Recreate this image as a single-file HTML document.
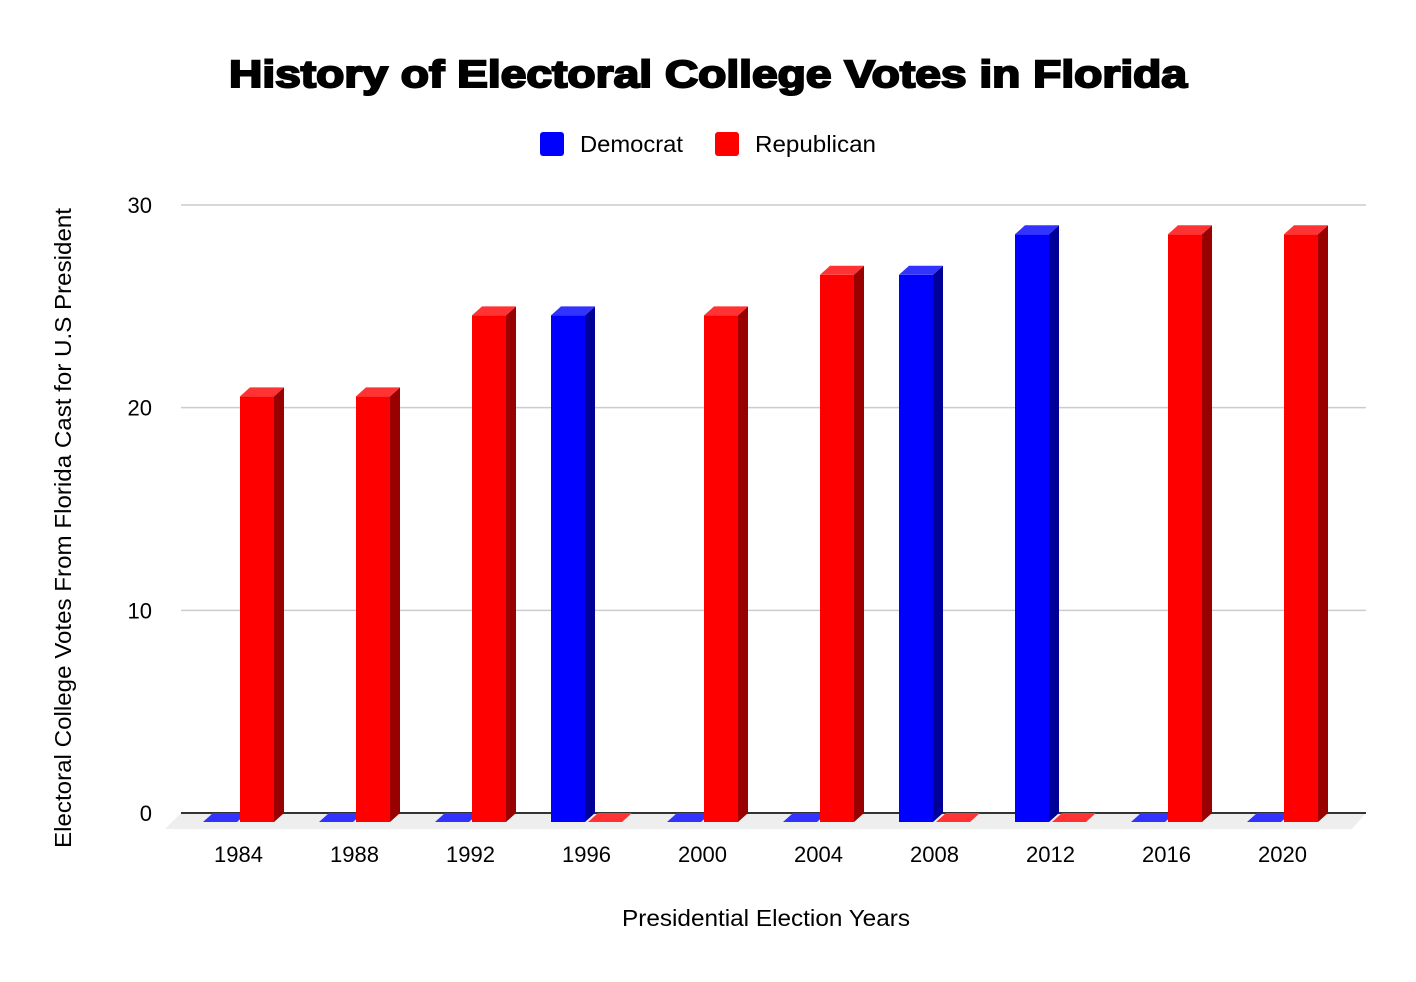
<!DOCTYPE html>
<html><head><meta charset="utf-8"><style>
body{margin:0;background:#fff;}
svg{display:block;font-family:"Liberation Sans",Arial,sans-serif;}
</style></head><body>
<svg width="1416" height="982">
<text x="229" y="87" font-size="38" font-weight="bold" stroke="#000" stroke-width="2" textLength="958" lengthAdjust="spacingAndGlyphs">History of Electoral College Votes in Florida</text>
<g>
<rect x="540" y="132" width="24" height="24" rx="3" fill="#0000ff"/>
<text x="580" y="152" font-size="23" textLength="103" lengthAdjust="spacingAndGlyphs">Democrat</text>
<rect x="715" y="132" width="24" height="24" rx="3" fill="#ff0000"/>
<text x="755" y="152" font-size="23" textLength="121" lengthAdjust="spacingAndGlyphs">Republican</text>
</g>
<g id="grid"></g>
<polygon points="181,813 1366,813 1352,829 165,829" fill="#eeeeee"/>
<line x1="181" y1="813" x2="1366" y2="813" stroke="#333" stroke-width="2"/>
<g id="bars"></g>
<g id="xlabels"></g>
<text x="622" y="926" font-size="23" textLength="288" lengthAdjust="spacingAndGlyphs">Presidential Election Years</text>
<text transform="translate(71,848) rotate(-90)" font-size="23" textLength="640" lengthAdjust="spacingAndGlyphs">Electoral College Votes From Florida Cast for U.S President</text>
</svg>
<script>
const years=["1984","1988","1992","1996","2000","2004","2008","2012","2016","2020"];
const democrat=[0,0,0,25,0,0,27,29,0,0];
const republican=[21,21,25,0,25,27,0,0,29,29];
const yTicks=[0,10,20,30];
const NS="http://www.w3.org/2000/svg";
const pxPerUnit=608/30;
function yBack(v){return 813-v*pxPerUnit;}
function xCenter(i){return 238.5+116*i;}
function mk(tag,attrs,parent){const e=document.createElementNS(NS,tag);for(const k in attrs)e.setAttribute(k,attrs[k]);parent.appendChild(e);return e;}
const grid=document.getElementById('grid');
yTicks.forEach(t=>{
  if(t>0){const l=mk('line',{x1:181,x2:1366,y1:yBack(t),y2:yBack(t),stroke:'#cccccc','stroke-width':1.5},grid);
  
  }
  const tx=mk('text',{x:152,y:yBack(t)+8,'text-anchor':'end','font-size':22},grid);
  tx.textContent=t;
  
  
});
const bars=document.getElementById('bars');
const W=34,DX=10,DY=9,BOT=822;
function bar(x,v,front,top,side,name){
  const g=mk('g',{},bars);
  
  
  const h=v*pxPerUnit, yt=BOT-h;
  if(h>0){
    mk('rect',{x:x,y:yt,width:W,height:h,fill:front},g);
    mk('polygon',{points:`${x+W},${yt} ${x+W+DX},${yt-DY} ${x+W+DX},${BOT-DY} ${x+W},${BOT}`,fill:side},g);
  }
  mk('polygon',{points:`${x},${yt} ${x+W},${yt} ${x+W+DX},${yt-DY} ${x+DX},${yt-DY}`,fill:top},g);
}
years.forEach((y,i)=>{
  const c=xCenter(i);
  bar(c-35.5,democrat[i],'#0000ff','#3333ff','#000099','bar-democrat-'+y);
  bar(c+1.5,republican[i],'#ff0000','#ff3333','#990000','bar-republican-'+y);
  const t=mk('text',{x:c,y:862,'text-anchor':'middle','font-size':22},document.getElementById('xlabels'));
  t.textContent=y;
  
  
});
</script>
</body></html>
